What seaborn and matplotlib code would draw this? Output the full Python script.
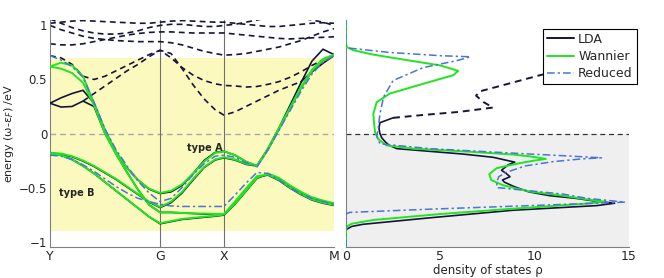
import numpy as np
import matplotlib
matplotlib.use("Agg")
import matplotlib.pyplot as plt
from matplotlib.lines import Line2D
import seaborn as sns

# k path: Y - G - X - M
k = [0, .1, .2, .3, .4, .5, .6, .7, .8, .9, 1.0, 1.1, 1.2, 1.3, 1.4, 1.5, 1.58,
     1.68, 1.78, 1.88, 1.98, 2.08, 2.18, 2.28, 2.38, 2.48, 2.58]
k_ticks = [0, 1.0, 1.58, 2.58]
k_labels = ['Y', 'G', 'X', 'M']

# Wannier bands (green)
wan_a = [0.62, 0.655, 0.63, 0.53, 0.28, 0.03, -0.17, -0.32, -0.43, -0.51, -0.55, -0.53, -0.47, -0.37,
         -0.26, -0.18, -0.165, -0.20, -0.26, -0.30, -0.14, 0.05, 0.24, 0.43, 0.59, 0.69, 0.73]
wan_b = [-0.18, -0.185, -0.21, -0.25, -0.30, -0.36, -0.42, -0.49, -0.56, -0.63, -0.68, -0.63, -0.54, -0.42,
         -0.31, -0.24, -0.22, -0.24, -0.28, -0.295, -0.15, 0.04, 0.23, 0.42, 0.58, 0.68, 0.72]
wan_c = [-0.19, -0.20, -0.24, -0.30, -0.37, -0.45, -0.53, -0.61, -0.69, -0.77, -0.83, -0.81, -0.79, -0.78,
         -0.77, -0.76, -0.75, -0.65, -0.53, -0.41, -0.37, -0.41, -0.48, -0.54, -0.59, -0.62, -0.645]
wan_d = [0.62, 0.60, 0.56, 0.47, 0.26, 0.0, -0.19, -0.36, -0.52, -0.66, -0.73, -0.73, -0.735, -0.74,
         -0.74, -0.745, -0.745, -0.63, -0.51, -0.395, -0.38, -0.43, -0.50, -0.56, -0.61, -0.64, -0.66]

# LDA bands (solid black, inside the window)
lda_a = [0.28, 0.33, 0.37, 0.40, 0.28, 0.03, -0.17, -0.32, -0.43, -0.515, -0.555, -0.54, -0.48, -0.37,
         -0.25, -0.175, -0.165, -0.20, -0.26, -0.30, -0.14, 0.05, 0.26, 0.47, 0.67, 0.78, 0.73]
lda_b = [-0.18, -0.19, -0.215, -0.255, -0.305, -0.365, -0.425, -0.495, -0.565, -0.635, -0.685, -0.64, -0.55, -0.43,
         -0.315, -0.245, -0.225, -0.245, -0.285, -0.30, -0.15, 0.04, 0.23, 0.42, 0.58, 0.68, 0.72]
lda_c = [-0.19, -0.20, -0.24, -0.30, -0.37, -0.45, -0.53, -0.61, -0.69, -0.77, -0.835, -0.815, -0.795, -0.785,
         -0.775, -0.765, -0.755, -0.655, -0.535, -0.415, -0.375, -0.415, -0.485, -0.545, -0.595, -0.625, -0.65]
lda_d = [0.28, 0.245, 0.25, 0.30, 0.25, 0.0, -0.19, -0.36, -0.52, -0.66, -0.73, -0.73, -0.735, -0.74,
         -0.745, -0.75, -0.75, -0.64, -0.515, -0.40, -0.385, -0.435, -0.505, -0.565, -0.615, -0.645, -0.665]
lda_e_k = [2.28, 2.38, 2.48, 2.58]
lda_e = [0.48, 0.57, 0.65, 0.72]

# LDA bands outside the window (dashed)
ld1_k = k[3:24]
ld1 = [0.30, 0.37, 0.44, 0.51, 0.58, 0.64, 0.71, 0.77, 0.74, 0.60, 0.45, 0.32, 0.22, 0.17,
       0.20, 0.25, 0.30, 0.35, 0.40, 0.44, 0.48]
ld2 = [0.72, 0.70, 0.64, 0.53, 0.50, 0.53, 0.58, 0.63, 0.68, 0.73, 0.77, 0.70, 0.61, 0.54,
       0.49, 0.46, 0.445, 0.44, 0.43, 0.435, 0.455, 0.48, 0.52, 0.57, 0.63, 0.68, 0.72]
ld3 = [1.00, 0.96, 0.93, 0.90, 0.88, 0.87, 0.86, 0.855, 0.85, 0.85, 0.85, 0.84, 0.82, 0.79,
       0.76, 0.74, 0.725, 0.73, 0.74, 0.76, 0.78, 0.80, 0.83, 0.86, 0.90, 0.94, 0.97]
ld4 = [0.83, 0.82, 0.82, 0.83, 0.85, 0.87, 0.89, 0.91, 0.925, 0.935, 0.94, 0.94, 0.935, 0.93,
       0.93, 0.93, 0.93, 0.92, 0.91, 0.90, 0.89, 0.88, 0.875, 0.88, 0.885, 0.89, 0.895]
ld5 = [1.02, 1.03, 1.04, 1.045, 1.04, 1.035, 1.03, 1.025, 1.02, 1.02, 1.03, 1.04, 1.045, 1.04,
       1.035, 1.03, 1.03, 1.02, 1.01, 1.0, 0.99, 0.99, 1.0, 1.01, 1.02, 1.025, 1.02]
ld6 = [1.06, 1.02, 0.98, 0.95, 0.93, 0.92, 0.92, 0.93, 0.95, 0.98, 1.0, 1.01, 1.01, 1.0,
       0.99, 0.99, 1.0, 1.01, 1.03, 1.05, 1.07, 1.08, 1.08, 1.07, 1.05, 1.03, 1.0]

# Reduced model bands (blue dash-dot)
red_a = [0.72, 0.68, 0.62, 0.52, 0.29, 0.04, -0.15, -0.30, -0.44, -0.55, -0.63, -0.60, -0.50, -0.38,
         -0.28, -0.21, -0.20, -0.22, -0.27, -0.31, -0.15, 0.03, 0.21, 0.39, 0.55, 0.66, 0.72]
red_b = [-0.20, -0.21, -0.24, -0.29, -0.35, -0.42, -0.49, -0.55, -0.60, -0.63, -0.655, -0.67, -0.675, -0.675,
         -0.675, -0.675, -0.675, -0.57, -0.46, -0.36, -0.37, -0.43, -0.50, -0.56, -0.60, -0.63, -0.655]

# density of states
lda_dos_e = [-1.05, -0.89, -0.86, -0.84, -0.78, -0.71, -0.667, -0.645, -0.625, -0.60, -0.575, -0.54, -0.49,
             -0.45, -0.43, -0.40, -0.37, -0.34, -0.29, -0.265, -0.22, -0.19, -0.165, -0.14, -0.11, -0.08,
             -0.04, 0.0, 0.05, 0.10, 0.145]
lda_dos = [0, 0, 0.3, 0.9, 4.45, 8.85, 13.3, 14.25, 13.2, 12.2, 10.8, 9.7, 8.9, 8.4, 8.3, 8.7, 8.5, 8.25,
           8.6, 8.95, 7.8, 6.2, 4.45, 2.7, 2.3, 2.1, 1.9, 1.8, 1.75, 1.8, 2.5]
lda_up_e = [0.145, 0.17, 0.20, 0.24, 0.29, 0.35, 0.39, 0.46, 0.54, 0.64, 0.74, 0.78]
lda_up = [2.5, 4.0, 6.0, 7.8, 7.3, 6.9, 7.1, 8.6, 10.3, 12.6, 14.9, 16.0]

wan_dos_e = [-1.05, -0.90, -0.86, -0.835, -0.80, -0.745, -0.70, -0.67, -0.645, -0.63, -0.61, -0.575, -0.537,
             -0.48, -0.43, -0.375, -0.32, -0.28, -0.25, -0.235, -0.215, -0.195, -0.165, -0.14, -0.11, -0.05,
             0.01, 0.08, 0.18, 0.29, 0.37, 0.46, 0.54, 0.58, 0.63, 0.68, 0.73, 0.77, 0.80, 0.83, 1.05]
wan_dos = [0, 0, 0.05, 0.3, 1.45, 5.0, 8.5, 11.0, 13.0, 13.7, 12.8, 11.5, 9.75, 8.35, 7.7, 7.6, 8.0, 9.05,
           10.0, 10.6, 9.9, 8.9, 6.2, 3.55, 2.15, 1.7, 1.55, 1.5, 1.45, 1.63, 2.33, 4.1, 5.7, 5.95, 5.0,
           3.2, 1.45, 0.4, 0.04, 0, 0]

red_dos_e = [-1.05, -0.745, -0.73, -0.70, -0.667, -0.635, -0.60, -0.56, -0.50, -0.45, -0.40, -0.36, -0.30,
             -0.26, -0.235, -0.225, -0.205, -0.19, -0.14, -0.095, -0.02, 0.03, 0.18, 0.34, 0.49, 0.61,
             0.675, 0.71, 0.72, 0.75, 0.79, 0.82, 1.05]
red_dos = [0, 0, 0.2, 4.45, 9.75, 14.8, 12.8, 11.5, 8.0, 8.0, 8.1, 8.5, 9.5, 11.0, 12.5, 13.55, 11.5,
           9.75, 4.45, 1.8, 1.63, 1.7, 1.8, 2.0, 2.5, 4.1, 5.9, 6.6, 5.0, 2.3, 0.2, 0, 0]

c_lda = '#15153a'
c_wan = '#1fe61f'
c_red = '#4a74d6'
dash = (0, (3.5, 2.5))
dashdot = (0, (5, 2, 1.5, 2))

sns.set_style('white')
plt.rcParams['font.family'] = ['DejaVu Sans']
plt.rcParams['axes.edgecolor'] = '#808080'

fig = plt.figure(figsize=(6.64, 2.78), dpi=100)
ax = fig.add_axes([0.0753, 0.1115, 0.4277, 0.8165])
ax2 = fig.add_axes([0.521, 0.1115, 0.426, 0.8165])


def band(axis, x, y, color, lw, ls='-', z=2):
    sns.lineplot(x=x, y=y, ax=axis, color=color, lw=lw, linestyle=ls, sort=False,
                 estimator=None, legend=False, zorder=z)


# ---- band structure
ax.axhspan(-0.9, 0.7, color='#fcf9bf', zorder=0, lw=0)
ax.axhline(0, color='#a8a8a8', lw=1.0, linestyle=(0, (4, 3)), zorder=1)
for kv in k_ticks[1:3]:
    ax.axvline(kv, color='#707070', lw=0.8, zorder=1)

for b in [ld2, ld3, ld4, ld5, ld6]:
    band(ax, k, b, c_lda, 1.2, dash)
band(ax, ld1_k, ld1, c_lda, 1.2, dash)
for b in [lda_a, lda_b, lda_c, lda_d]:
    band(ax, k, b, c_lda, 1.2, '-', 3)
band(ax, lda_e_k, lda_e, c_lda, 1.2, '-', 3)
for b in [wan_a, wan_b, wan_c, wan_d]:
    band(ax, k, b, c_wan, 1.4, '-', 4)
for b in [red_a, red_b]:
    band(ax, k, b, c_red, 1.1, dashdot, 5)

ax.text(1.41, -0.13, 'type A', fontsize=7, fontweight='bold', ha='center', va='center', zorder=6)
ax.text(0.24, -0.555, 'type B', fontsize=7, fontweight='bold', ha='center', va='center', zorder=6)

ax.set_xlim(0, 2.58)
ax.set_ylim(-1.05, 1.05)
ax.set_xticks(k_ticks)
ax.set_xticklabels(k_labels)
ax.set_yticks([-1, -0.5, 0, 0.5, 1])
ax.set_yticklabels(['\u22121', '\u22120.5', '0', '0.5', '1'])
ax.set_ylabel('energy (\u03c9-\u03b5$_F$) /eV', fontsize=8, labelpad=2)
ax.tick_params(direction='in', length=3, color='#808080', labelsize=8.5, pad=2)
ax.tick_params(axis='x', labelsize=9)
for s in ['top', 'right']:
    ax.spines[s].set_visible(False)

# ---- density of states
ax2.axhspan(-1.05, 0, xmin=0, xmax=1, color='#efefef', zorder=0, lw=0)
ax2.axhline(0, color='#333333', lw=0.9, linestyle=(0, (4, 3)), zorder=1)
band(ax2, lda_dos, lda_dos_e, c_lda, 1.2, '-', 3)
band(ax2, lda_up, lda_up_e, c_lda, 1.4, dash, 3)
band(ax2, wan_dos, wan_dos_e, c_wan, 1.4, '-', 4)
band(ax2, red_dos, red_dos_e, c_red, 1.1, dashdot, 5)

ax2.set_xlim(0, 15)
ax2.set_ylim(-1.05, 1.05)
ax2.set_xticks([0, 5, 10, 15])
ax2.set_yticks([-1, -0.5, 0, 0.5, 1])
ax2.set_yticklabels([])
ax2.set_ylabel('')
ax2.set_xlabel('density of states \u03c1', fontsize=8.5, labelpad=1)
ax2.tick_params(direction='in', length=3, color='#808080', labelsize=9, pad=2)
for s in ['top', 'right']:
    ax2.spines[s].set_visible(False)

handles = [Line2D([], [], color=c_lda, lw=1.4),
           Line2D([], [], color=c_wan, lw=1.4),
           Line2D([], [], color=c_red, lw=1.1, linestyle=dashdot)]
leg = fig.legend(handles, ['LDA', 'Wannier', 'Reduced'], loc='upper left',
                 bbox_to_anchor=(0.818, 0.896), fontsize=9, frameon=True, fancybox=False,
                 framealpha=1, edgecolor='black', borderpad=0.3, handlelength=2.2,
                 handletextpad=0.3, labelspacing=0.35, borderaxespad=0)
leg.get_frame().set_linewidth(0.8)

fig.savefig('out.png', dpi=100)
